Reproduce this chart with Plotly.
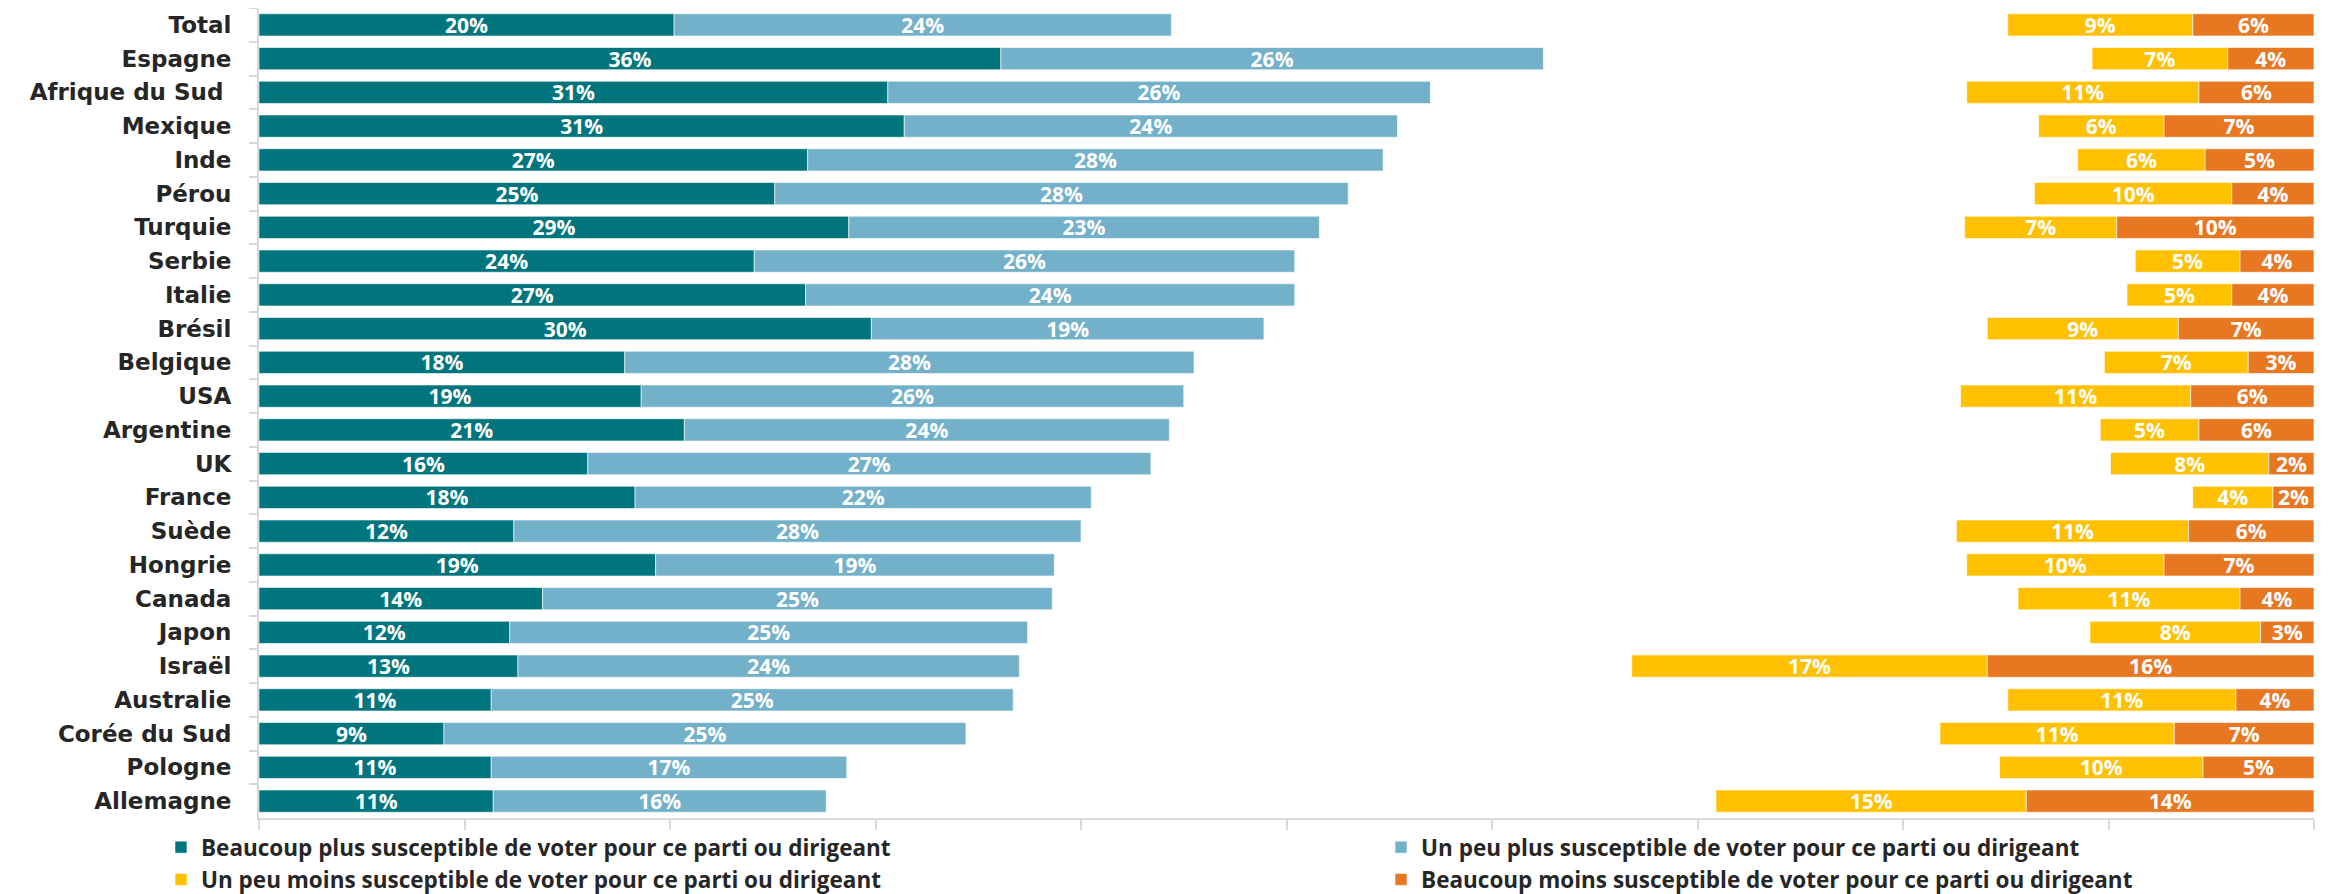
import plotly.graph_objects as go

countries = ["Total", "Espagne", "Afrique du Sud\u00a0", "Mexique", "Inde", "Pérou", "Turquie",
             "Serbie", "Italie", "Brésil", "Belgique", "USA", "Argentine", "UK", "France",
             "Suède", "Hongrie", "Canada", "Japon", "Israël", "Australie", "Corée du Sud",
             "Pologne", "Allemagne"]

beaucoup_plus = [20.2, 36.1, 30.6, 31.4, 26.7, 25.1, 28.7, 24.1, 26.6, 29.8, 17.8, 18.6,
                 20.7, 16.0, 18.3, 12.4, 19.3, 13.8, 12.2, 12.6, 11.3, 9.0, 11.3, 11.4]
peu_plus = [24.2, 26.4, 26.4, 24.0, 28.0, 27.9, 22.9, 26.3, 23.8, 19.1, 27.7, 26.4,
            23.6, 27.4, 22.2, 27.6, 19.4, 24.8, 25.2, 24.4, 25.4, 25.4, 17.3, 16.2]
peu_moins = [9.0, 6.6, 11.3, 6.1, 6.2, 9.6, 7.4, 5.1, 5.1, 9.3, 7.0, 11.2,
             4.8, 7.7, 3.9, 11.3, 9.6, 10.8, 8.3, 17.3, 11.1, 11.4, 9.9, 15.1]
beaucoup_moins = [5.9, 4.2, 5.6, 7.3, 5.3, 4.0, 9.6, 3.6, 4.0, 6.6, 3.2, 6.0,
                  5.6, 2.2, 2.0, 6.1, 7.3, 3.6, 2.6, 15.9, 3.8, 6.8, 5.4, 14.0]

names = ["Beaucoup plus susceptible de voter pour ce parti ou dirigeant",
         "Un peu plus susceptible de voter pour ce parti ou dirigeant",
         "Un peu moins susceptible de voter pour ce parti ou dirigeant",
         "Beaucoup moins susceptible de voter pour ce parti ou dirigeant"]
colors = ["#00757E", "#72B1C9", "#FFC000", "#E87722"]

AXIS_MAX = 100

bases = [
    [0] * len(countries),
    beaucoup_plus,
    [AXIS_MAX - a - b for a, b in zip(peu_moins, beaucoup_moins)],
    [AXIS_MAX - b for b in beaucoup_moins],
]
series = [beaucoup_plus, peu_plus, peu_moins, beaucoup_moins]
legends = ["legend", "legend2", "legend", "legend2"]

LABEL_FONT = "Open Sans, Noto Sans, sans-serif"

fig = go.Figure()
for vals, base, name, col, lg in zip(series, bases, names, colors, legends):
    fig.add_trace(go.Bar(
        y=countries, x=vals, base=base, orientation="h", name=name,
        marker=dict(color=col, line=dict(color="white", width=0.6)),
        text=[f"{v:.0f}%" for v in vals],
        textposition="inside", insidetextanchor="middle", textangle=0,
        textfont=dict(family=LABEL_FONT, size=21, color="white", weight="bold"),
        legend=lg,
    ))

fig.update_layout(
    width=2320, height=886,
    barmode="overlay", bargap=0.34,
    plot_bgcolor="white", paper_bgcolor="white",
    margin=dict(l=251, r=14, t=0, b=76, autoexpand=False),
    uniformtext=dict(minsize=21, mode="show"),
    xaxis=dict(range=[0, AXIS_MAX], dtick=10, showticklabels=False, showgrid=False,
               zeroline=False, showline=True, linecolor="#D9D9D9", linewidth=2,
               ticks="outside", ticklen=10, tickcolor="#D9D9D9", tickwidth=2),
    yaxis=dict(autorange="reversed", showgrid=False, zeroline=False, showline=True,
               linecolor="#D9D9D9", linewidth=2, ticks="outside", tickson="boundaries",
               ticklen=8, tickcolor="#D9D9D9", tickwidth=2, ticklabelstandoff=21,
               tickfont=dict(family="DejaVu Sans", size=23, color="#262626", weight="bold")),
    legend=dict(orientation="v", x=-0.0477, xanchor="left", y=-0.0099, yanchor="top",
                font=dict(family=LABEL_FONT, size=22.5, color="#262626", weight="bold"),
                bgcolor="rgba(0,0,0,0)", tracegroupgap=0),
    legend2=dict(orientation="v", x=0.546, xanchor="left", y=-0.0099, yanchor="top",
                 font=dict(family=LABEL_FONT, size=22.5, color="#262626", weight="bold"),
                 bgcolor="rgba(0,0,0,0)", tracegroupgap=0),
    showlegend=True,
)

fig.write_html("out.html")
